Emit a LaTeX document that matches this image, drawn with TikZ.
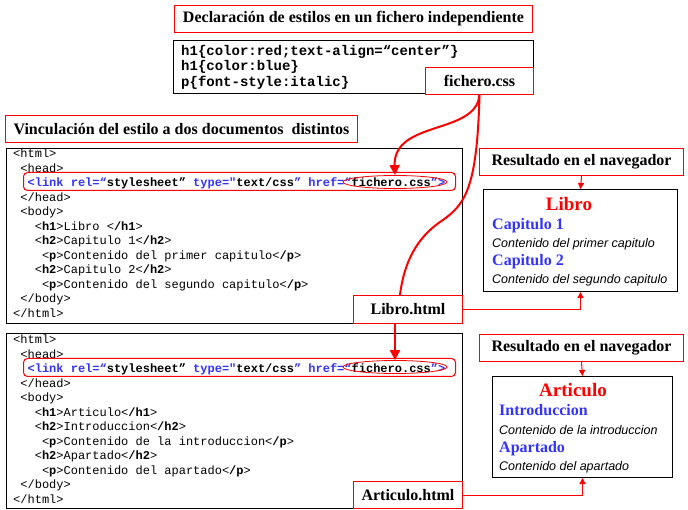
\documentclass[tikz,border=0pt]{standalone}
\usepackage{fontspec}
\setmainfont{Liberation Serif}
\setsansfont{Liberation Sans}
\setmonofont{Liberation Mono}
\usepackage{tikz}
\usetikzlibrary{positioning}
\usetikzlibrary{shapes.geometric}
\usetikzlibrary{arrows.meta}

\definecolor{tagblue}{RGB}{51,51,255}
\newcommand\codeind[1]{\hspace*{#1\fontcharwd\font`x}}
\newcommand\tb[1]{\textcolor{tagblue}{#1}}

\begin{document}
\begin{tikzpicture}[
    x=1pt, y=-1pt,
    titlebox/.style={draw=red, fill=white, line width=1pt, anchor=north west, inner sep=0pt, font=\bfseries\fontsize{16}{18}\selectfont},
    codebox/.style={draw=black, line width=1pt, anchor=north west, inner sep=0pt},
    codetext/.style={anchor=north west, inner sep=0pt, align=left, font=\ttfamily\fontsize{12}{14.5}\selectfont},
    linkbox/.style={draw=red, rounded corners=4pt, line width=1pt, anchor=north west, inner sep=0pt},
    hrefnode/.style={ellipse, draw=red, line width=0.8pt, inner sep=0pt, minimum width=104pt, minimum height=13pt},
    headnode/.style={anchor=base, inner sep=0pt, text=red, font=\bfseries\fontsize{19}{21}\selectfont},
    subnode/.style={anchor=base west, inner sep=0pt, text=tagblue, font=\bfseries\fontsize{16}{18}\selectfont},
    parnode/.style={anchor=base west, inner sep=0pt, font=\sffamily\itshape\fontsize{12.5}{15}\selectfont},
    bigarrow/.style={draw=red, line width=2pt, -{Triangle[width=10pt,length=10pt]}},
    thinarrow/.style={draw=red, line width=1pt, -{Triangle[width=6pt,length=6pt]}}
    ]
    \fill[white] (0,0) rectangle (688,510);
    \useasboundingbox (0,0) rectangle (688,510);

    %Nodes
    \node[titlebox, minimum width=358pt, minimum height=27pt] (decl) at (174,5) {Declaración de estilos en un fichero independiente};

    \node[codebox, minimum width=360pt, minimum height=53pt] (cssbox) at (173,40) {};
    \node[codetext, font=\ttfamily\bfseries\fontsize{14}{15.5}\selectfont] (csssrc) at (181,45)
        {h1\{color:red;text-align=“center”\}\\h1\{color:blue\}\\p\{font-style:italic\}};
    \node[titlebox, minimum width=108pt, minimum height=27pt] (cssfile) at (425,67) {fichero.css};

    \node[titlebox, minimum width=352pt, minimum height=27pt] (vinc) at (5,115) {Vinculación del estilo a dos documentos\ \ distintos};

    \node[codebox, minimum width=456pt, minimum height=175pt] (code1) at (6,148) {};
    \node[codetext] (src1) at (13,149) {%
        <html>\\
        \codeind{1}<head>\\
        \codeind{2}\textbf{\tb{<link rel=“}stylesheet”\ \tb{type="}text/css\tb{”}\ \tb{href=“}fichero.css\tb{”>}}\\
        \codeind{1}</head>\\
        \codeind{1}<body>\\
        \codeind{3}<\textbf{h1}>Libro <\textbf{/h1}>\\
        \codeind{3}<\textbf{h2}>Capitulo 1<\textbf{/h2}>\\
        \codeind{4}<\textbf{p}>Contenido del primer capitulo<\textbf{/p}>\\
        \codeind{3}<\textbf{h2}>Capitulo 2<\textbf{/h2}>\\
        \codeind{4}<\textbf{p}>Contenido del segundo capitulo<\textbf{/p}>\\
        \codeind{1}</body>\\
        </html>};
    \node[linkbox, minimum width=432pt, minimum height=18pt] (link1) at (23,172) {};
    \node[hrefnode] (href1) at (395,182) {};
    \node[titlebox, minimum width=109pt, minimum height=28pt] (libro) at (353,295) {Libro.html};

    \node[codebox, minimum width=456pt, minimum height=175pt] (code2) at (6,333) {};
    \node[codetext] (src2) at (13,335) {%
        <html>\\
        \codeind{1}<head>\\
        \codeind{2}\textbf{\tb{<link rel=“}stylesheet”\ \tb{type="}text/css\tb{”}\ \tb{href=“}fichero.css\tb{”>}}\\
        \codeind{1}</head>\\
        \codeind{1}<body>\\
        \codeind{3}<\textbf{h1}>Articulo<\textbf{/h1}>\\
        \codeind{3}<\textbf{h2}>Introduccion<\textbf{/h2}>\\
        \codeind{4}<\textbf{p}>Contenido de la introduccion<\textbf{/p}>\\
        \codeind{3}<\textbf{h2}>Apartado<\textbf{/h2}>\\
        \codeind{4}<\textbf{p}>Contenido del apartado<\textbf{/p}>\\
        \codeind{1}</body>\\
        </html>};
    \node[linkbox, minimum width=432pt, minimum height=18pt] (link2) at (23,358) {};
    \node[hrefnode] (href2) at (395,367) {};
    \node[titlebox, minimum width=109pt, minimum height=27pt] (artic) at (353,481) {Articulo.html};

    \node[titlebox, minimum width=204pt, minimum height=27pt] (nav1) at (479,148) {Resultado en el navegador};
    \node[codebox, minimum width=194pt, minimum height=102pt] (res1) at (483,189) {};
    \node[headnode] (libroh) at (569,211) {Libro};
    \node[subnode] (cap1) at (492,230) {Capitulo 1};
    \node[parnode] (par1) at (492,248) {Contenido del primer capitulo};
    \node[subnode] (cap2) at (492,266) {Capitulo 2};
    \node[parnode] (par2) at (492,284) {Contenido del segundo capitulo};

    \node[titlebox, minimum width=204pt, minimum height=27pt] (nav2) at (479,334) {Resultado en el navegador};
    \node[codebox, minimum width=180pt, minimum height=101pt] (res2) at (492,376) {};
    \node[headnode] (arth) at (573,397) {Articulo};
    \node[subnode] (intro) at (499,416) {Introduccion};
    \node[parnode] (par3) at (499,434) {Contenido de la introduccion};
    \node[subnode] (apart) at (499,452) {Apartado};
    \node[parnode] (par4) at (499,470) {Contenido del apartado};

    %Lines
    \draw[bigarrow] (cssfile.south) .. controls (476,135) and (393,120) .. (href1.north);
    \draw[red, line width=2pt] (cssfile.south) .. controls (477,190) and (465,205) .. (440,222)
        .. controls (417,238) and (404,262) .. ([xshift=-8pt]libro.north);
    \draw[bigarrow] (libro.south -| href2.north) -- (href2.north);

    \draw[thinarrow] (libro.east) -| (res1.south);
    \draw[thinarrow] (artic.east) -| (res2.south);
    \draw[thinarrow] (nav1.south) -- (res1.north);
    \draw[thinarrow] (nav2.south) -- (res2.north);

\end{tikzpicture}
\end{document}
